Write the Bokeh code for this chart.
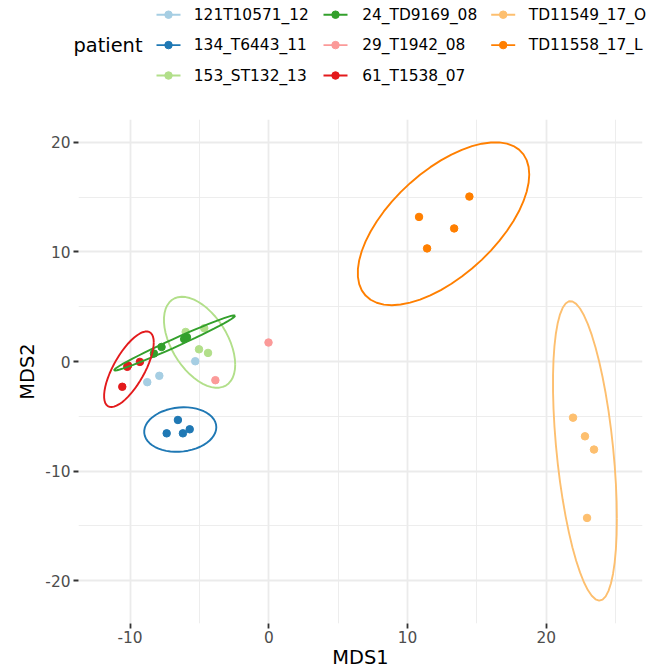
import numpy as np
from bokeh.plotting import figure
from bokeh.models import Range1d, FixedTicker
from bokeh.embed import file_html
from bokeh.resources import INLINE
from bokeh.core.properties import value

# ---------------- data ----------------
patients = ["121T10571_12", "134_T6443_11", "153_ST132_13", "24_TD9169_08",
            "29_T1942_08", "61_T1538_07", "TD11549_17_O", "TD11558_17_L"]
colors = ["#A6CEE3", "#1F78B4", "#B2DF8A", "#33A02C",
          "#FB9A99", "#E31A1C", "#FDBF6F", "#FF7F00"]

mds1_121T10571_12 = [-8.76, -7.89, -5.30]
mds2_121T10571_12 = [-1.88, -1.30, 0.03]
mds1_134_T6443_11 = [-6.55, -7.36, -6.19, -5.70]
mds2_134_T6443_11 = [-5.33, -6.55, -6.55, -6.18]
mds1_153_ST132_13 = [-5.99, -4.65, -5.03, -4.38]
mds2_153_ST132_13 = [2.70, 3.04, 1.12, 0.79]
mds1_24_TD9169_08 = [-8.28, -7.73, -6.10, -5.90]
mds2_24_TD9169_08 = [0.73, 1.33, 2.05, 2.22]
mds1_29_T1942_08 = [-0.02, -3.85]
mds2_29_T1942_08 = [1.74, -1.70]
mds1_61_T1538_07 = [-10.20, -10.15, -9.29, -10.56]
mds2_61_T1538_07 = [-0.48, -0.35, -0.03, -2.30]
mds1_TD11549_17_O = [21.93, 22.79, 23.44, 22.94]
mds2_TD11549_17_O = [-5.12, -6.82, -8.03, -14.27]
mds1_TD11558_17_L = [14.46, 10.83, 13.36, 11.41]
mds2_TD11558_17_L = [15.06, 13.20, 12.15, 10.33]

mds1 = [mds1_121T10571_12, mds1_134_T6443_11, mds1_153_ST132_13, mds1_24_TD9169_08,
        mds1_29_T1942_08, mds1_61_T1538_07, mds1_TD11549_17_O, mds1_TD11558_17_L]
mds2 = [mds2_121T10571_12, mds2_134_T6443_11, mds2_153_ST132_13, mds2_24_TD9169_08,
        mds2_29_T1942_08, mds2_61_T1538_07, mds2_TD11549_17_O, mds2_TD11558_17_L]

# patients with a 95% t-ellipse drawn in the reference
ellipse_patients = ["134_T6443_11", "153_ST132_13", "24_TD9169_08",
                    "61_T1538_07", "TD11549_17_O", "TD11558_17_L"]

x_ticks = [-10, 0, 10, 20]
y_ticks = [-20, -10, 0, 10, 20]

LEVEL = 0.95
SEGMENTS = 51


# ---------------- stat_ellipse(type = "t") ----------------
def cov_trob(x, nu=5, maxit=25, tol=0.01):
    n, p = x.shape
    wt = np.ones(n)
    loc = (wt[:, None] * x).sum(0) / wt.sum()
    w = np.sqrt(wt)
    X = x - loc
    for _ in range(maxit):
        w0 = w
        X = x - loc
        _, d, vt = np.linalg.svd(np.sqrt(w / w.sum())[:, None] * X, full_matrices=False)
        wX = X @ vt.T @ np.diag(1.0 / d)
        Q = (wX ** 2).sum(1)
        w = (wt * (nu + p)) / (nu + Q)
        loc = (w[:, None] * x).sum(0) / w.sum()
        if np.all(np.abs(w - w0) < tol):
            break
    cov = (np.sqrt(w)[:, None] * X).T @ (np.sqrt(w)[:, None] * X) / wt.sum()
    return cov, loc


def t_ellipse(xs, ys):
    data = np.column_stack([xs, ys])
    n = data.shape[0]
    cov, center = cov_trob(data)
    R = np.linalg.cholesky(cov).T
    dfd = n - 1
    fq = (dfd / 2.0) * ((1 - LEVEL) ** (-2.0 / dfd) - 1)  # qf(level, 2, dfd)
    radius = np.sqrt(2 * fq)
    ang = np.arange(SEGMENTS + 1) * 2 * np.pi / SEGMENTS
    circ = np.column_stack([np.cos(ang), np.sin(ang)])
    ell = center + radius * (circ @ R)
    return ell[:, 0], ell[:, 1]


ellipses = {}
for pat, xs, ys in zip(patients, mds1, mds2):
    if pat in ellipse_patients:
        ellipses[pat] = t_ellipse(np.array(xs), np.array(ys))

all_x = np.concatenate([np.array(v) for v in mds1] + [e[0] for e in ellipses.values()])
all_y = np.concatenate([np.array(v) for v in mds2] + [e[1] for e in ellipses.values()])
xpad = 0.05 * (all_x.max() - all_x.min())
ypad = 0.05 * (all_y.max() - all_y.min())

FONT = "DejaVu Sans"
W = 663
LEG_H = 100
MAIN_H = 571

# ---------------- legend (drawn as its own strip) ----------------
lg = figure(width=W, height=LEG_H, x_range=Range1d(0, W), y_range=Range1d(LEG_H, 0),
            x_axis_type=None, y_axis_type=None,
            output_backend="svg", toolbar_location=None, min_border=0)
lg.grid.visible = False
lg.outline_line_color = None
lg.background_fill_color = None
lg.border_fill_color = None

lg.text(x=[73], y=[44.6], text=["patient"], text_font=value(FONT), text_font_size="19.4px",
        text_color="black", text_baseline="middle", text_align="left")
col_key_x = [168, 335, 502.7]
col_lab_x = [193.3, 361.7, 528.3]
row_y = [14.2, 44.6, 75.0]
for i, (pat, col) in enumerate(zip(patients, colors)):
    c, r = divmod(i, 3)
    kx, ky = col_key_x[c], row_y[r]
    lg.line(x=[kx - 12, kx + 12], y=[ky, ky], line_color=col, line_width=1.9)
    lg.scatter(x=[kx], y=[ky], size=7.5, fill_color=col, line_color=col)
    lg.text(x=[col_lab_x[c]], y=[ky], text=[pat], text_font=value(FONT), text_font_size="15.4px",
            text_color="black", text_baseline="middle", text_align="left")

# ---------------- main plot ----------------
p = figure(width=W, height=MAIN_H,
           x_range=Range1d(all_x.min() - xpad, all_x.max() + xpad),
           y_range=Range1d(all_y.min() - ypad, all_y.max() + ypad),
           output_backend="svg", toolbar_location=None,
           min_border_left=78, min_border_right=21, min_border_top=19, min_border_bottom=44)
p.outline_line_color = None
p.background_fill_color = "white"
p.border_fill_color = "white"

p.xaxis.ticker = FixedTicker(ticks=x_ticks, minor_ticks=[-15, -5, 5, 15, 25])
p.yaxis.ticker = FixedTicker(ticks=y_ticks, minor_ticks=[-15, -5, 5, 15])
p.xaxis.major_label_overrides = {t: str(t) for t in x_ticks}
p.yaxis.major_label_overrides = {t: str(t) for t in y_ticks}

for g in (p.xgrid, p.ygrid):
    g.grid_line_color = "#EBEBEB"
    g.grid_line_width = 1.8
    g.minor_grid_line_color = "#EBEBEB"
    g.minor_grid_line_width = 0.9

for ax in (p.xaxis, p.yaxis):
    ax.axis_line_color = None
    ax.major_tick_line_color = "#333333"
    ax.major_tick_line_width = 1.8
    ax.major_tick_out = 5
    ax.major_tick_in = 0
    ax.minor_tick_line_color = None
    ax.major_label_text_font = FONT
    ax.major_label_text_font_size = "15.4px"
    ax.major_label_text_color = "#4D4D4D"
    ax.axis_label_text_font = FONT
    ax.axis_label_text_font_size = "19.4px"
    ax.axis_label_text_font_style = "normal"
    ax.axis_label_text_color = "black"

p.xaxis.major_label_standoff = 2
p.yaxis.major_label_standoff = 3
p.xaxis.axis_label = "MDS1"
p.yaxis.axis_label = "MDS2"
p.xaxis.axis_label_standoff = 0
p.yaxis.axis_label_standoff = 3

for pat, col, xs, ys in zip(patients, colors, mds1, mds2):
    p.scatter(x=xs, y=ys, size=7.5, fill_color=col, line_color=col)
for pat, col in zip(patients, colors):
    if pat in ellipses:
        ex, ey = ellipses[pat]
        p.line(x=ex, y=ey, line_color=col, line_width=1.9)

# two independent roots stacked vertically (no frame alignment between them)
open("out.html", "w").write(file_html([lg, p], INLINE))
